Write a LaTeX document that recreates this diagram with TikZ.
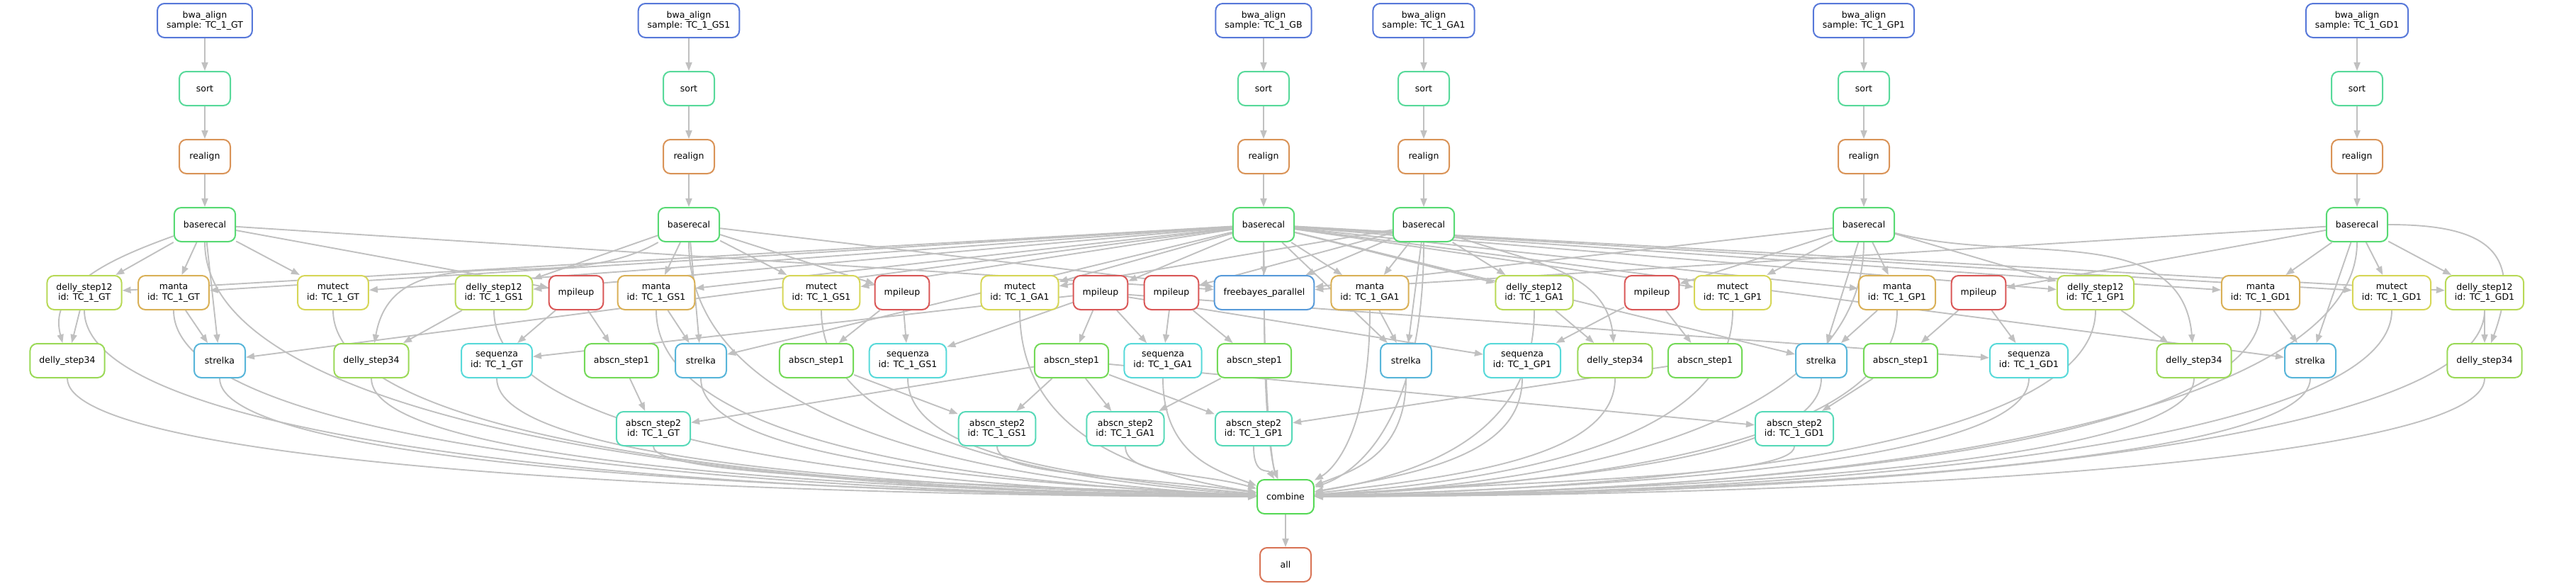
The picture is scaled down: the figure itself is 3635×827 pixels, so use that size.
\documentclass[tikz,border=0pt]{standalone}
\usepackage{fontspec}
\setmainfont{DejaVu Sans}
\usetikzlibrary{arrows.meta,calc,backgrounds}
\definecolor{cbwa}{HTML}{5778D9}
\definecolor{csort}{HTML}{57D99A}
\definecolor{creal}{HTML}{D99357}
\definecolor{cbase}{HTML}{57D973}
\definecolor{cdelA}{HTML}{B8D957}
\definecolor{cmanta}{HTML}{D9B057}
\definecolor{cmutect}{HTML}{D6D657}
\definecolor{cmpile}{HTML}{D95757}
\definecolor{cfree}{HTML}{579AD9}
\definecolor{cdelB}{HTML}{9AD957}
\definecolor{cstrel}{HTML}{57B5D9}
\definecolor{cseq}{HTML}{57D9D9}
\definecolor{cabA}{HTML}{73D957}
\definecolor{cabB}{HTML}{57D9B8}
\definecolor{ccomb}{HTML}{57D957}
\definecolor{call}{HTML}{D97557}
\definecolor{cedge}{HTML}{C0C0C0}

\begin{document}
\begin{tikzpicture}[x=1pt,y=1pt,
  job/.style={draw=#1, line width=2pt, rounded corners=10pt, fill=white, align=center,
    minimum width=72pt, minimum height=48pt, inner xsep=13pt, inner ysep=2pt,
    font=\fontsize{12.5}{14.5}\selectfont},
  edge/.style={draw=cedge, line width=1.9pt, -{Triangle[length=12pt,width=9pt]}}]
\useasboundingbox (0,0) rectangle (3635,-827);

% one chain per sample
\foreach \s/\x in {GT/289,GS1/972,GB/1783,GA1/2009,GP1/2630,GD1/3326}{
  \node[job=cbwa] (bwa\s) at (\x,-29) {bwa\_align\\sample: TC\_1\_\s};
  \node[job=csort] (sort\s) at (\x,-125) {sort};
  \node[job=creal] (real\s) at (\x,-221) {realign};
  \node[job=cbase] (br\s) at (\x,-317) {baserecal};
}

% callers
\foreach \s/\x in {GT/119,GS1/697,GA1/2165,GP1/2957,GD1/3506}
  \node[job=cdelA] (dA\s) at (\x,-413) {delly\_step12\\id: TC\_1\_\s};
\foreach \s/\x in {GT/245,GS1/926,GA1/1933,GP1/2677,GD1/3190}
  \node[job=cmanta] (ma\s) at (\x,-413) {manta\\id: TC\_1\_\s};
\foreach \s/\x in {GT/470,GS1/1159,GA1/1439,GP1/2445,GD1/3375}
  \node[job=cmutect] (mu\s) at (\x,-413) {mutect\\id: TC\_1\_\s};
\foreach \s/\x in {GT/813,GS1/1273,GB/1553,GA1/1653,GP1/2331,GD1/2792}
  \node[job=cmpile] (mp\s) at (\x,-413) {mpileup};
\node[job=cfree] (fb) at (1784,-413) {freebayes\_parallel};

\foreach \s/\x in {GT/95,GS1/524,GA1/2279,GP1/3096,GD1/3506}
  \node[job=cdelB] (dB\s) at (\x,-509) {delly\_step34};
\foreach \s/\x in {GT/310,GS1/989,GA1/1984,GP1/2570,GD1/3260}
  \node[job=cstrel] (st\s) at (\x,-509) {strelka};
\foreach \s/\x in {GT/701,GS1/1281,GA1/1641,GP1/2148,GD1/2863}
  \node[job=cseq] (sq\s) at (\x,-509) {sequenza\\id: TC\_1\_\s};
\foreach \s/\x in {GT/877,GS1/1152,GB/1512,GA1/1770,GP1/2406,GD1/2682}
  \node[job=cabA] (ab\s) at (\x,-509) {abscn\_step1};

\foreach \s/\x in {GT/922,GS1/1407,GA1/1588,GP1/1769,GD1/2532}
  \node[job=cabB] (abb\s) at (\x,-605) {abscn\_step2\\id: TC\_1\_\s};

\node[job=ccomb] (combine) at (1814,-701) {combine};
\node[job=call] (all) at (1814,-797) {all};

\begin{pgfonlayer}{background}
\foreach \s in {GT,GS1,GB,GA1,GP1,GD1}{
  \draw[edge] (bwa\s) -- (sort\s);
  \draw[edge] (sort\s) -- (real\s);
  \draw[edge] (real\s) -- (br\s);
  \draw[edge] (br\s) -- (mp\s);
  \draw[edge] (br\s) -- (fb);
  \draw[edge] (mp\s) -- (ab\s);
}
% tumour samples against the normal TC_1_GB
\foreach \s in {GT,GS1,GA1,GP1,GD1}{
  \foreach \m in {br\s,brGB}{
    \draw[edge] (\m) -- (dA\s);
    \draw[edge] (\m) -- (ma\s);
    \draw[edge] (\m) -- (mu\s);
    \draw[edge] (\m) -- (st\s);
  }
  \draw[edge] (dA\s) -- (dB\s);
  \draw[edge] (ma\s) -- (st\s);
  \draw[edge] (mp\s) -- (sq\s);
  \draw[edge] (mpGB) -- (sq\s);
  \draw[edge] (ab\s) -- (abb\s);
  \draw[edge] (abGB) -- (abb\s);
}
\foreach \s/\o/\i/\l in {GT/200/105/1,GS1/-150/80/1,GA1/-20/95/1,GP1/-15/95/1,GD1/0/70/1.6}
  \draw[edge] (br\s) to[out=\o,in=\i,looseness=\l] (dB\s);

% everything ends in combine
\foreach \k in {brGT,brGS1,brGB,brGA1,brGP1,brGD1,fb,
    dAGT,dAGS1,dAGA1,dAGP1,dAGD1,maGT,maGS1,maGA1,maGP1,maGD1,
    muGT,muGS1,muGA1,muGP1,muGD1,dBGT,dBGS1,dBGA1,dBGP1,dBGD1,
    stGT,stGS1,stGA1,stGP1,stGD1,sqGT,sqGS1,sqGA1,sqGP1,sqGD1,
    abbGT,abbGS1,abbGA1,abbGP1,abbGD1}
  \draw[edge] let \p1=($(combine)-(\k)$) in
    (\k) .. controls +(0pt,{0.7*\y1}) and +({-0.55*\x1},{40*(1-abs(\x1)/1800)}) .. (combine);
\draw[edge] (combine) -- (all);
\end{pgfonlayer}
\end{tikzpicture}
\end{document}
